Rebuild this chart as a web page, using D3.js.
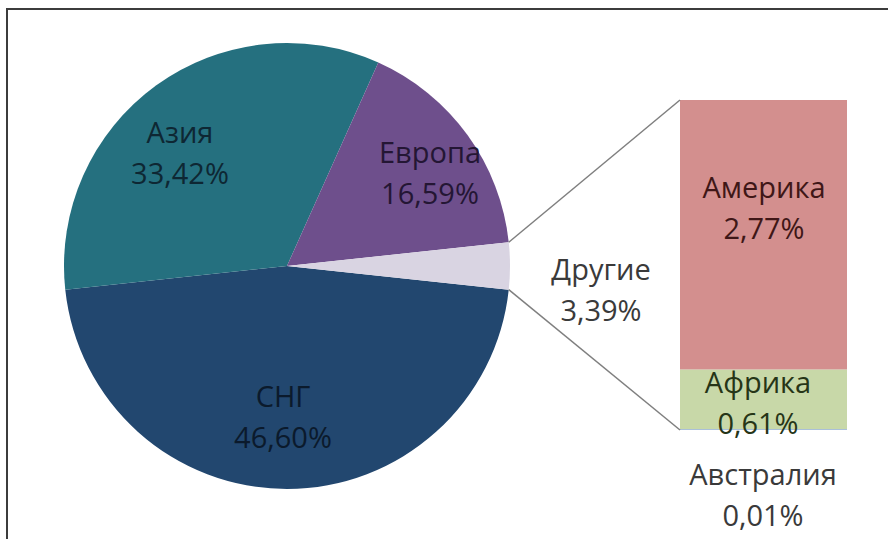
<!DOCTYPE html>
<html>
<head>
<meta charset="utf-8">
<script src="https://cdn.jsdelivr.net/npm/d3@7"></script>
<style>
  html, body { margin: 0; padding: 0; background: #fff; }
  svg { display: block; }
  .lbl { font-family: "Open Sans", "Noto Sans", sans-serif; font-size: 29px; }
</style>
</head>
<body>
<div id="chart"></div>
<script>
// Main pie: regions (order is clockwise from the "others" slice bottom edge)
const pieNames   = ['СНГ', 'Азия', 'Европа', 'Другие'];
const pieValues  = [46.60, 33.42, 16.59, 3.39];
const pieLabels  = ['46,60%', '33,42%', '16,59%', '3,39%'];
const pieColors  = ['#22476f', '#25707f', '#6e4f8c', '#d9d4e2'];

// Secondary bar: breakdown of "Другие"
const barNames   = ['Америка', 'Африка', 'Австралия'];
const barValues  = [2.77, 0.61, 0.01];
const barLabels  = ['2,77%', '0,61%', '0,01%'];
const barColors  = ['#d38f8e', '#c8d8a8', '#a8bfd8'];

const W = 888, H = 539;
const cx = 287, cy = 266, R = 223;

const svg = d3.select('#chart').append('svg')
  .attr('width', W).attr('height', H);

// frame
svg.append('rect')
  .attr('x', 7).attr('y', 9)
  .attr('width', W + 20).attr('height', H + 20)
  .attr('fill', 'none').attr('stroke', '#3c3c3c').attr('stroke-width', 2);

// ── Pie ────────────────────────────────────────────────────────────────────
const otherShare = pieValues[3] / d3.sum(pieValues);
const start = Math.PI / 2 + otherShare * Math.PI;

const pie = d3.pie().sort(null).value(d => d)
  .startAngle(start).endAngle(start + 2 * Math.PI);
const arcs = pie(pieValues);
const arc = d3.arc().innerRadius(0).outerRadius(R);

const g = svg.append('g').attr('transform', `translate(${cx},${cy})`);
g.selectAll('path').data(arcs).join('path')
  .attr('d', arc)
  .attr('fill', (d, i) => pieColors[i]);

// label anchor: [centre x, first baseline] in page coordinates
const pieLabelPos = [[283, 407], [180, 143], [430, 163], [601, 280]];
const pieTextCol  = ['#0b1a2c', '#0e2733', '#241634', '#3a3a3a'];
const lineGap = 41;
pieNames.forEach((n, i) => {
  const [x, yb] = pieLabelPos[i];
  const t = svg.append('text').attr('class', 'lbl')
    .attr('text-anchor', 'middle').attr('fill', pieTextCol[i]);
  t.append('tspan').attr('x', x).attr('y', yb).text(n);
  t.append('tspan').attr('x', x).attr('y', yb + lineGap).text(pieLabels[i]);
});

// ── Bar of "Другие" ─────────────────────────────────────────────────────────
const barX = 680, barW = 167, barTop = 100;
const y = d3.scaleLinear().domain([0, d3.sum(barValues)]).range([0, 330]);
const cum = d3.cumsum([0, ...barValues]);

svg.append('g').selectAll('rect').data(barValues).join('rect')
  .attr('x', barX).attr('width', barW)
  .attr('y', (d, i) => barTop + y(cum[i]))
  .attr('height', d => y(d))
  .attr('fill', (d, i) => barColors[i]);

// connector lines from the "others" slice to the bar
const oArc = arcs[3];
const pt = a => [cx + R * Math.sin(a), cy - R * Math.cos(a)];
const pTop = pt(oArc.startAngle), pBot = pt(oArc.endAngle);
const barBottom = barTop + y(d3.sum(barValues));
svg.append('line')
  .attr('x1', pTop[0]).attr('y1', pTop[1]).attr('x2', barX).attr('y2', barTop)
  .attr('stroke', '#7f7f7f').attr('stroke-width', 1.5);
svg.append('line')
  .attr('x1', pBot[0]).attr('y1', pBot[1]).attr('x2', barX).attr('y2', barBottom)
  .attr('stroke', '#7f7f7f').attr('stroke-width', 1.5);

// bar labels
const barLabelY = [198, 393, 485];
const barLabelX = [764, 758, 763];
const barTextCol = ['#3f1717', '#263517', '#3a3a3a'];
barNames.forEach((n, i) => {
  const x = barLabelX[i], yb = barLabelY[i];
  const t = svg.append('text').attr('class', 'lbl')
    .attr('text-anchor', 'middle').attr('fill', barTextCol[i]);
  t.append('tspan').attr('x', x).attr('y', yb).text(n);
  t.append('tspan').attr('x', x).attr('y', yb + lineGap).text(barLabels[i]);
});
</script>
</body>
</html>
